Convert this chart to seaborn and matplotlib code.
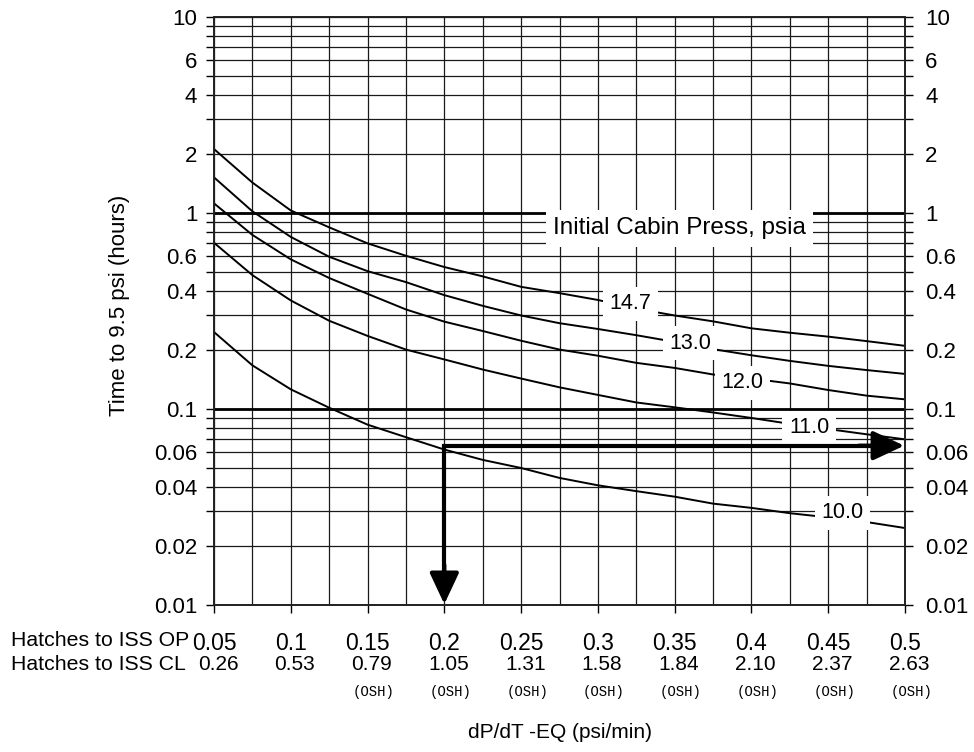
import numpy as np
import pandas as pd
import matplotlib
matplotlib.use('Agg')
import matplotlib.pyplot as plt
import seaborn as sns
from matplotlib.ticker import FixedLocator, FixedFormatter, NullFormatter

# ------------------------------------------------------------
# DATA
# ------------------------------------------------------------
dpdt = [0.05, 0.075, 0.1, 0.125, 0.15, 0.175, 0.2, 0.225, 0.25, 0.275,
        0.3, 0.325, 0.35, 0.375, 0.4, 0.425, 0.45, 0.475, 0.5]

t_147 = [2.12, 1.43, 1.03, 0.845, 0.70, 0.605, 0.53, 0.475, 0.42, 0.39,
         0.36, 0.325, 0.30, 0.28, 0.258, 0.245, 0.234, 0.222, 0.21]
t_130 = [1.52, 1.02, 0.755, 0.598, 0.505, 0.444, 0.381, 0.336, 0.30, 0.274,
         0.256, 0.238, 0.22, 0.202, 0.188, 0.176, 0.166, 0.158, 0.151]
t_120 = [1.12, 0.773, 0.58, 0.466, 0.387, 0.322, 0.279, 0.25, 0.223, 0.201,
         0.187, 0.172, 0.162, 0.15, 0.143, 0.135, 0.125, 0.117, 0.112]
t_110 = [0.705, 0.482, 0.358, 0.282, 0.236, 0.201, 0.179, 0.159, 0.143, 0.129,
         0.118, 0.108, 0.102, 0.096, 0.090, 0.084, 0.079, 0.0743, 0.070]
t_100 = [0.247, 0.167, 0.126, 0.1015, 0.0832, 0.0718, 0.0621, 0.055, 0.05, 0.0445,
         0.0408, 0.0381, 0.0357, 0.0329, 0.0313, 0.0294, 0.028, 0.0265, 0.0247]

press_labels = ['14.7', '13.0', '12.0', '11.0', '10.0']

op_ticks = [0.05, 0.1, 0.15, 0.2, 0.25, 0.3, 0.35, 0.4, 0.45, 0.5]
op_labels = ['0.05', '0.1', '0.15', '0.2', '0.25', '0.3', '0.35', '0.4', '0.45', '0.5']
cl_labels = ['0.26', '0.53', '0.79', '1.05', '1.31', '1.58', '1.84', '2.10', '2.37', '2.63']
osh_flags = [False, False, True, True, True, True, True, True, True, True]

y_label_vals = [0.01, 0.02, 0.04, 0.06, 0.1, 0.2, 0.4, 0.6, 1, 2, 4, 6, 10]
y_label_text = ['0.01', '0.02', '0.04', '0.06', '0.1', '0.2', '0.4', '0.6', '1', '2', '4', '6', '10']

# example worked read: 0.2 psi/min from 10.0 psia
arrow_x = 0.2
arrow_y = 0.065

# ------------------------------------------------------------
# STYLE
# ------------------------------------------------------------
sns.set_theme(style='white')
plt.rcParams['font.family'] = ['Liberation Sans', 'DejaVu Sans']
plt.rcParams['axes.linewidth'] = 1.2
plt.rcParams['text.color'] = 'black'
plt.rcParams['xtick.color'] = 'black'
plt.rcParams['ytick.color'] = 'black'
plt.rcParams['axes.labelcolor'] = 'black'

df = pd.DataFrame({
    'dpdt': dpdt * 5,
    'hours': t_147 + t_130 + t_120 + t_110 + t_100,
    'press': np.repeat(press_labels, len(dpdt)),
})

fig = plt.figure(figsize=(9.74, 7.52), dpi=100)
ax = fig.add_axes([214 / 974, 1 - 605 / 752, 691 / 974, 588 / 752])

sns.lineplot(data=df, x='dpdt', y='hours', hue='press', hue_order=press_labels,
             palette=['black'] * 5, legend=False, estimator=None, sort=False,
             linewidth=1.4, ax=ax, zorder=3)

ax.set_yscale('log')
ax.set_xlim(0.05, 0.5)
ax.set_ylim(0.01, 10)

# grid: every 1..9 per decade, every 0.025 psi/min
grid_y = [m * 10.0 ** e for e in (-2, -1, 0) for m in range(1, 10)] + [10.0]
ax.yaxis.set_major_locator(FixedLocator(grid_y))
ax.yaxis.set_major_formatter(FixedFormatter(
    [y_label_text[y_label_vals.index(v)] if v in y_label_vals else ''
     for v in [round(g, 4) for g in grid_y]]))
ax.yaxis.set_minor_locator(FixedLocator([]))
ax.xaxis.set_major_locator(FixedLocator(op_ticks))
ax.xaxis.set_minor_locator(FixedLocator([t + 0.025 for t in op_ticks[:-1]]))
ax.xaxis.set_major_formatter(NullFormatter())
ax.xaxis.set_minor_formatter(NullFormatter())

ax.grid(True, which='both', axis='x', color='#1a1a1a', linewidth=0.9)
ax.grid(True, which='major', axis='y', color='#1a1a1a', linewidth=0.9)
ax.axhline(1, color='black', lw=2.0, zorder=2)
ax.axhline(0.1, color='black', lw=2.0, zorder=2)

ax.tick_params(axis='y', which='major', direction='out', length=5.5, width=1,
               color='black', left=True, labelsize=16, pad=6.5)
ax.tick_params(axis='x', which='major', direction='out', length=5.5, width=1,
               color='black', bottom=True)
ax.tick_params(axis='x', which='minor', length=0)
for s in ax.spines.values():
    s.set_color('black')

ax.set_xlabel('')
ax.set_ylabel('')

# right hand copy of the y axis
ax2 = ax.twinx()
ax2.set_yscale('log')
ax2.set_ylim(0.01, 10)
ax2.yaxis.set_major_locator(FixedLocator(grid_y))
ax2.yaxis.set_major_formatter(ax.yaxis.get_major_formatter())
ax2.yaxis.set_minor_locator(FixedLocator([]))
ax2.tick_params(axis='y', which='major', direction='out', length=5.5, width=1,
                color='black', right=True, labelsize=16, pad=9)
ax2.grid(False)

# curve labels
box = dict(boxstyle='square,pad=0.3', facecolor='white', edgecolor='none')
label_pos = [(0.321, 0.345), (0.360, 0.216), (0.394, 0.136), (0.4375, 0.080), (0.459, 0.0295)]
for (lx, ly), lab in zip(label_pos, press_labels):
    ax.text(lx, ly, lab, ha='center', va='center', fontsize=15.5, bbox=box, zorder=5)
ax.text(0.353, 0.835, 'Initial Cabin Press, psia', ha='center', va='center',
        fontsize=17.5, bbox=dict(boxstyle='square,pad=0.3', facecolor='white',
                                 edgecolor='none'), zorder=5)

# worked-example arrows
ax.plot([0.49, arrow_x, arrow_x], [arrow_y, arrow_y, 0.0125], color='black',
        lw=3.0, solid_joinstyle='miter', solid_capstyle='butt', zorder=6)
head = dict(arrowstyle='-|>,head_length=1.6,head_width=0.75', color='black',
            lw=3.0, shrinkA=0, shrinkB=0)
ax.annotate('', xy=(0.4995, arrow_y), xytext=(0.47, arrow_y), arrowprops=head, zorder=6)
ax.annotate('', xy=(arrow_x, 0.0101), xytext=(arrow_x, 0.016), arrowprops=head, zorder=6)

# x tick rows
xt = ax.get_xaxis_transform()
for x, op, cl, osh in zip(op_ticks, op_labels, cl_labels, osh_flags):
    ax.text(x, (605 - 643) / 588, op, transform=xt, ha='center', va='center',
            fontsize=16.5, clip_on=False)
    ax.text(x + 0.0027, (605 - 665) / 588, cl, transform=xt, ha='center',
            va='center', fontsize=15, clip_on=False)
    if osh:
        ax.text(x + 0.004, (605 - 692) / 588, '(OSH)', transform=xt, ha='center',
                va='center', fontsize=10, family='Liberation Mono', clip_on=False)

fig.text(11 / 974, 1 - 640 / 752, 'Hatches to ISS OP', ha='left', va='center', fontsize=15.3)
fig.text(11 / 974, 1 - 665 / 752, 'Hatches to ISS CL', ha='left', va='center', fontsize=15.3)

ax.text(0.5, (605 - 733) / 588, 'dP/dT -EQ (psi/min)', transform=ax.transAxes,
        ha='center', va='center', fontsize=15)
ax.text((120 - 214) / 691, (605 - 305) / 588, 'Time to 9.5 psi (hours)',
        transform=ax.transAxes, ha='center', va='center', rotation=90, fontsize=16)

fig.savefig('out.png', dpi=100)
